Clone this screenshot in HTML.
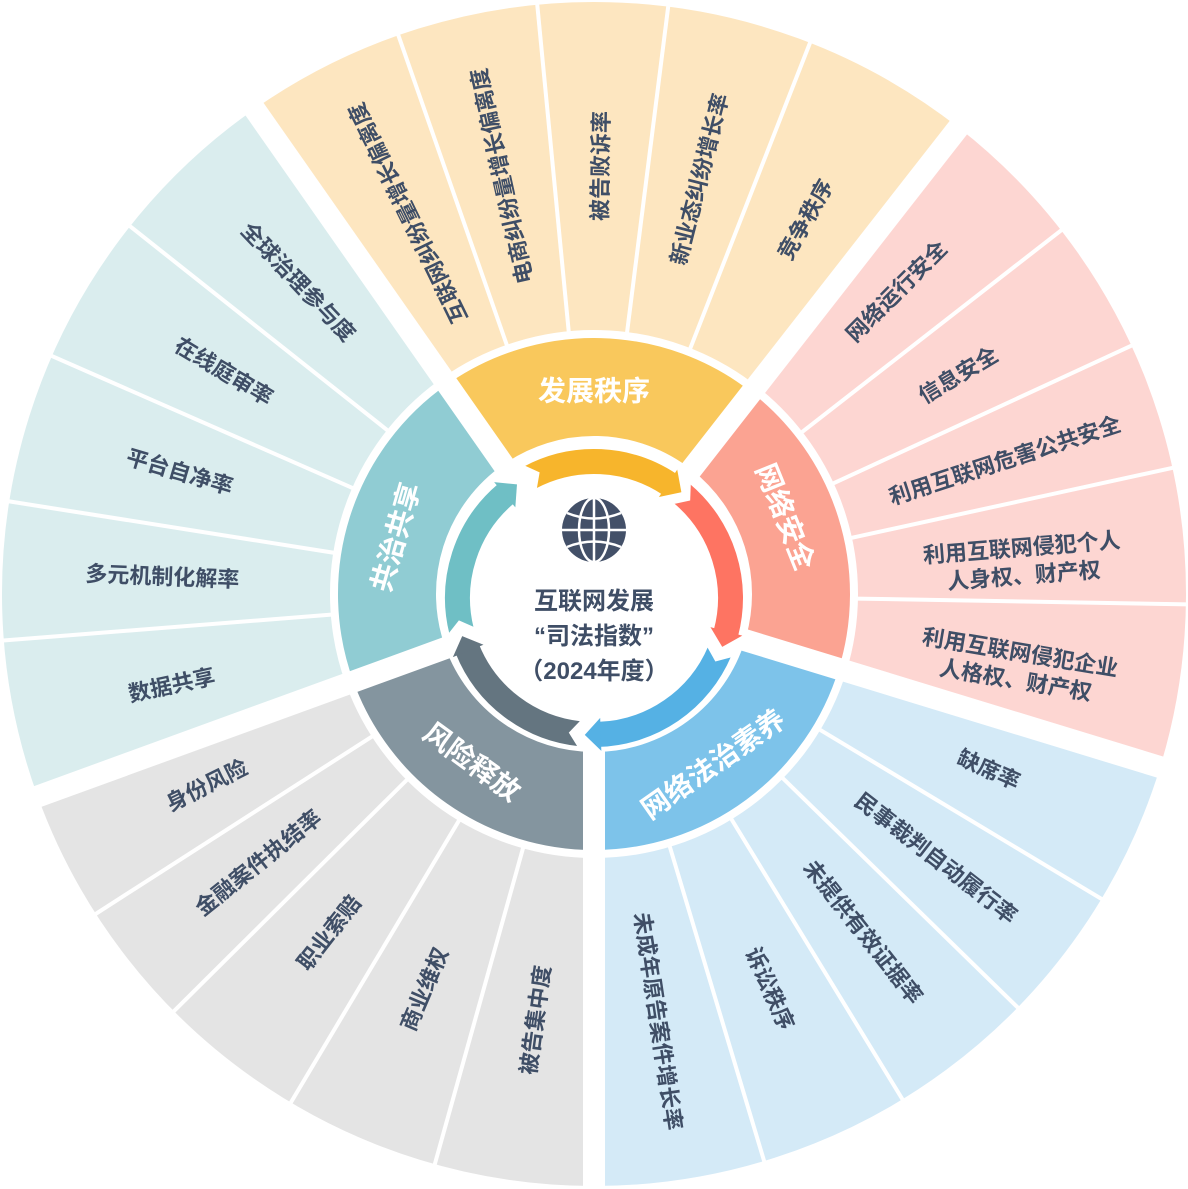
<!DOCTYPE html>
<html><head><meta charset="utf-8"><style>
html,body{margin:0;padding:0;background:#fff;}
svg{display:block;}
text{font-family:"Liberation Sans","Noto Sans CJK SC",sans-serif;font-weight:bold;}
.it{fill:#3F4E66;font-size:22px;}
.ct{fill:#fff;font-size:28px;}
</style></head><body>
<svg width="1188" height="1189" viewBox="0 0 1188 1189" xmlns="http://www.w3.org/2000/svg">
<g transform="translate(594,594)">
<g fill="none" stroke-width="328">
<circle r="428" stroke="#FDE6C0" stroke-dasharray="545.3 5000" transform="rotate(-125)"/>
<circle r="428" stroke="#FDD6D2" stroke-dasharray="515.4 5000" transform="rotate(-52)"/>
<circle r="428" stroke="#D4EAF7" stroke-dasharray="545.3 5000" transform="rotate(17)"/>
<circle r="428" stroke="#E4E4E4" stroke-dasharray="522.9 5000" transform="rotate(90)"/>
<circle r="428" stroke="#DAEDEE" stroke-dasharray="560.3 5000" transform="rotate(160)"/>
</g>
<g fill="none" stroke-width="98">
<circle r="207" stroke="#F9C85C" stroke-dasharray="263.7 5000" transform="rotate(-125)"/>
<circle r="207" stroke="#FBA392" stroke-dasharray="249.3 5000" transform="rotate(-52)"/>
<circle r="207" stroke="#7DC3EA" stroke-dasharray="263.7 5000" transform="rotate(17)"/>
<circle r="207" stroke="#84959F" stroke-dasharray="252.9 5000" transform="rotate(90)"/>
<circle r="207" stroke="#90CCD3" stroke-dasharray="271 5000" transform="rotate(160)"/>
</g>
<circle r="260" fill="none" stroke="#fff" stroke-width="7"/>
<g stroke="#fff" stroke-width="4">
<line x1="0" y1="-262" x2="0" y2="-600" transform="rotate(-19.3)"/>
<line x1="0" y1="-262" x2="0" y2="-600" transform="rotate(-5.5)"/>
<line x1="0" y1="-262" x2="0" y2="-600" transform="rotate(7.2)"/>
<line x1="0" y1="-262" x2="0" y2="-600" transform="rotate(21.4)"/>
<line x1="0" y1="-262" x2="0" y2="-600" transform="rotate(52.1)"/>
<line x1="0" y1="-262" x2="0" y2="-600" transform="rotate(65.2)"/>
<line x1="0" y1="-262" x2="0" y2="-600" transform="rotate(77.7)"/>
<line x1="0" y1="-262" x2="0" y2="-600" transform="rotate(91)"/>
<line x1="0" y1="-262" x2="0" y2="-600" transform="rotate(121)"/>
<line x1="0" y1="-262" x2="0" y2="-600" transform="rotate(134.3)"/>
<line x1="0" y1="-262" x2="0" y2="-600" transform="rotate(148.6)"/>
<line x1="0" y1="-262" x2="0" y2="-600" transform="rotate(163.3)"/>
<line x1="0" y1="-262" x2="0" y2="-600" transform="rotate(195.6)"/>
<line x1="0" y1="-262" x2="0" y2="-600" transform="rotate(210.8)"/>
<line x1="0" y1="-262" x2="0" y2="-600" transform="rotate(225.2)"/>
<line x1="0" y1="-262" x2="0" y2="-600" transform="rotate(237.3)"/>
<line x1="0" y1="-262" x2="0" y2="-600" transform="rotate(265.5)"/>
<line x1="0" y1="-262" x2="0" y2="-600" transform="rotate(279)"/>
<line x1="0" y1="-262" x2="0" y2="-600" transform="rotate(293.7)"/>
<line x1="0" y1="-262" x2="0" y2="-600" transform="rotate(308.4)"/>
</g>
<g stroke="#fff" stroke-width="22">
<line x1="0" y1="-152" x2="0" y2="-620" transform="rotate(-35)"/>
<line x1="0" y1="-152" x2="0" y2="-620" transform="rotate(38)"/>
<line x1="0" y1="-152" x2="0" y2="-620" transform="rotate(107)"/>
<line x1="0" y1="-152" x2="0" y2="-620" transform="rotate(180)"/>
<line x1="0" y1="-152" x2="0" y2="-620" transform="rotate(250)"/>
</g>
<circle r="154" fill="#fff"/>
</g>

<g transform="translate(594,598)">
<g fill="none" stroke-width="25">
<circle r="136.5" stroke="#F7B52C" stroke-dasharray="147 2000" transform="rotate(-118)"/>
<circle r="136.5" stroke="#FE7462" stroke-dasharray="155 2000" transform="rotate(-50)"/>
<circle r="136.5" stroke="#55B1E4" stroke-dasharray="155 2000" transform="rotate(23)"/>
<circle r="136.5" stroke="#647580" stroke-dasharray="148 2000" transform="rotate(96)"/>
<circle r="136.5" stroke="#6FBFC5" stroke-dasharray="152 2000" transform="rotate(166)"/>
</g>
<polygon fill="#F7B52C" points="-2,-153 14,-136.5 -2,-120" transform="rotate(33.7)"/>
<polygon fill="#FE7462" points="-2,-153 14,-136.5 -2,-120" transform="rotate(105)"/>
<polygon fill="#55B1E4" points="-2,-153 14,-136.5 -2,-120" transform="rotate(178)"/>
<polygon fill="#647580" points="-2,-153 14,-136.5 -2,-120" transform="rotate(248)"/>
<polygon fill="#6FBFC5" points="-2,-153 14,-136.5 -2,-120" transform="rotate(320)"/>
<g fill="#fff">
<polygon points="-1,-152 11,-136.5 -1,-121" transform="rotate(-28)"/>
<polygon points="-1,-152 11,-136.5 -1,-121" transform="rotate(40)"/>
<polygon points="-1,-152 11,-136.5 -1,-121" transform="rotate(113)"/>
<polygon points="-1,-152 11,-136.5 -1,-121" transform="rotate(186)"/>
<polygon points="-1,-152 11,-136.5 -1,-121" transform="rotate(256)"/>
</g>
</g>

<g transform="translate(594,530)">
<circle r="32" fill="#435068"/>
<g fill="none" stroke="#fff" stroke-width="2.5">
<line x1="0" y1="-32" x2="0" y2="32"/>
<line x1="-32" y1="0" x2="32" y2="0"/>
<ellipse rx="15" ry="32"/>
<path d="M-27,-17 Q0,-6 27,-17"/>
<path d="M-27,17 Q0,6 27,17"/>
</g>
</g>
<g fill="#3F4E66" font-size="24" text-anchor="middle">
<text x="594" y="609">互联网发展</text>
<text x="594" y="644">“司法指数”</text>
<text x="594" y="679">（2024年度）</text>
</g>

<g transform="translate(594,594)" text-anchor="middle" dominant-baseline="central">
<text class="ct" transform="rotate(0) translate(0,-203) rotate(0)">发展秩序</text>
<text class="ct" transform="rotate(68) translate(0,-206) rotate(0)">网络安全</text>
<text class="ct" transform="rotate(145) translate(0,-208) rotate(-180)">网络法治素养</text>
<text class="ct" transform="rotate(216) translate(0,-208) rotate(-180)">风险释放</text>
<text class="ct" transform="rotate(286) translate(0,-206) rotate(-360)">共治共享</text>

<text class="it" transform="rotate(-26) translate(0,-424) rotate(-90)">互联网纠纷量增长偏离度</text>
<text class="it" transform="rotate(-12.4) translate(0,-428) rotate(-90)">电商纠纷量增长偏离度</text>
<text class="it" transform="rotate(0.9) translate(0,-428) rotate(-90)">被告败诉率</text>
<text class="it" transform="rotate(14.3) translate(0,-428) rotate(-90)">新业态纠纷增长率</text>
<text class="it" transform="rotate(29.5) translate(0,-430) rotate(-90)">竞争秩序</text>
<text class="it" transform="rotate(45) translate(0,-428) rotate(-90)">网络运行安全</text>
<text class="it" transform="rotate(59) translate(0,-425) rotate(-90)">信息安全</text>
<text class="it" transform="rotate(72) translate(0,-432) rotate(-90)">利用互联网危害公共安全</text>
<text class="it" transform="rotate(85.5) translate(0,-430) rotate(-90)"><tspan x="0" dy="-13">利用互联网侵犯个人</tspan><tspan x="0" dy="28">人身权、财产权</tspan></text>
<text class="it" transform="rotate(99.5) translate(0,-430) rotate(-90)"><tspan x="0" dy="-13">利用互联网侵犯企业</tspan><tspan x="0" dy="28">人格权、财产权</tspan></text>
<text class="it" transform="rotate(114) translate(0,-432) rotate(-90)">缺席率</text>
<text class="it" transform="rotate(127.7) translate(0,-432) rotate(-90)">民事裁判自动履行率</text>
<text class="it" transform="rotate(141.5) translate(0,-432) rotate(-90)">未提供有效证据率</text>
<text class="it" transform="rotate(156) translate(0,-432) rotate(-90)">诉讼秩序</text>
<text class="it" transform="rotate(171.5) translate(0,-432) rotate(-90)">未成年原告案件增长率</text>
<text class="it" transform="rotate(187.8) translate(0,-430) rotate(-270)">被告集中度</text>
<text class="it" transform="rotate(203.2) translate(0,-430) rotate(-270)">商业维权</text>
<text class="it" transform="rotate(218) translate(0,-430) rotate(-270)">职业索赔</text>
<text class="it" transform="rotate(231.3) translate(0,-430) rotate(-270)">金融案件执结率</text>
<text class="it" transform="rotate(243.7) translate(0,-432) rotate(-270)">身份风险</text>
<text class="it" transform="rotate(257.8) translate(0,-432) rotate(-270)">数据共享</text>
<text class="it" transform="rotate(272.3) translate(0,-432) rotate(-270)">多元机制化解率</text>
<text class="it" transform="rotate(286.4) translate(0,-432) rotate(-270)">平台自净率</text>
<text class="it" transform="rotate(301) translate(0,-432) rotate(-270)">在线庭审率</text>
<text class="it" transform="rotate(316.5) translate(0,-430) rotate(-270)">全球治理参与度</text>
</g>
</svg>
</body></html>
